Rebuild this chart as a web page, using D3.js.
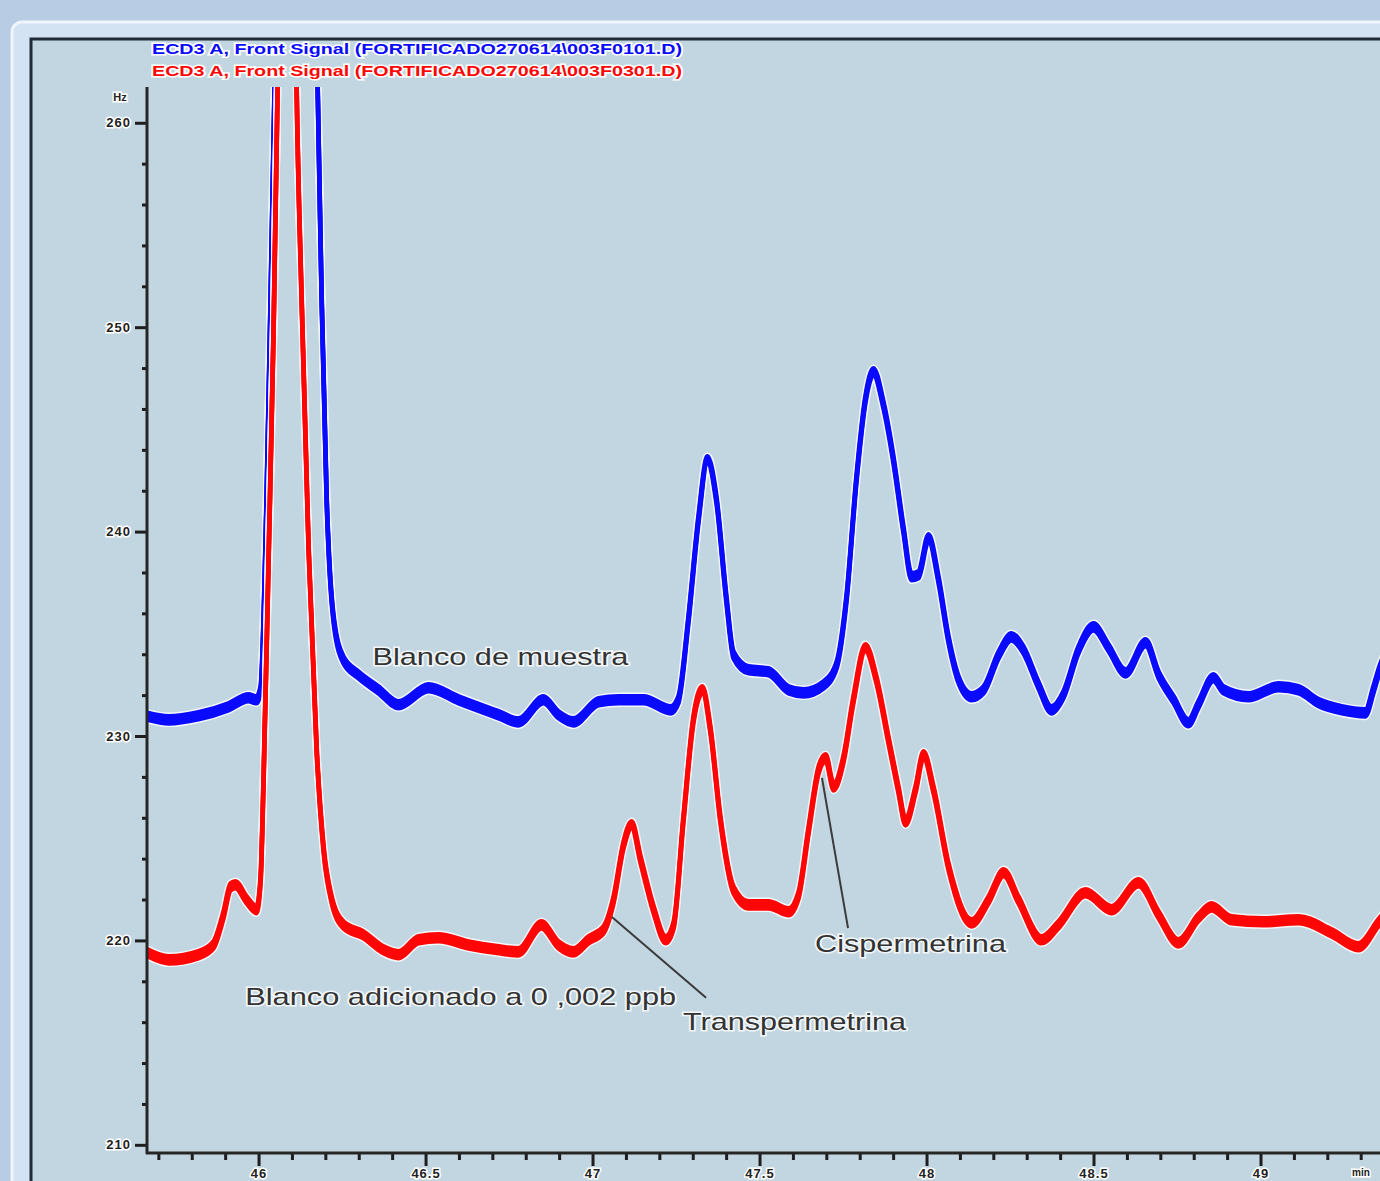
<!DOCTYPE html>
<html>
<head>
<meta charset="utf-8">
<script src="https://cdn.jsdelivr.net/npm/d3@7/dist/d3.min.js"></script>
<style>
  body { margin: 0; background: #b8cce3; overflow: hidden; }
  svg { display: block; }
  text { font-family: "Liberation Sans", Arial, sans-serif; }
</style>
</head>
<body>
<svg id="chart" width="1380" height="1181"></svg>
<script>
// chromatogram traces: [minutes, Hz]
var blueTrace = [
  [45.662, 230.99], [45.731, 230.79], [45.820, 230.99], [45.910, 231.43], [45.970, 231.87],
  [45.994, 231.77], [46.006, 232.26], [46.024, 241.56], [46.036, 251.34], [46.048, 261.71],
  [46.098, 300.0], [46.177, 261.71], [46.189, 251.34], [46.204, 241.56], [46.225, 235.68],
  [46.254, 233.73], [46.299, 232.99], [46.359, 232.26], [46.419, 231.53], [46.509, 232.36],
  [46.599, 231.77], [46.719, 231.04], [46.778, 230.69], [46.853, 231.77], [46.898, 231.04],
  [46.943, 230.69], [47.018, 231.67], [47.078, 231.77], [47.153, 231.77], [47.234, 231.28],
  [47.257, 231.77], [47.287, 235.68], [47.317, 240.58], [47.344, 243.51], [47.371, 241.56],
  [47.401, 236.66], [47.422, 233.97], [47.467, 233.24], [47.527, 233.14], [47.587, 232.26],
  [47.632, 232.11], [47.692, 232.50], [47.731, 233.48], [47.760, 236.66], [47.790, 242.53],
  [47.817, 246.45], [47.841, 247.82], [47.871, 246.20], [47.901, 243.51], [47.931, 240.09],
  [47.955, 237.79], [47.976, 237.89], [48.006, 239.70], [48.036, 237.64], [48.066, 234.71],
  [48.096, 232.75], [48.135, 231.92], [48.171, 232.26], [48.216, 233.97], [48.254, 234.85],
  [48.290, 234.22], [48.335, 232.50], [48.374, 231.28], [48.410, 232.02], [48.455, 234.22],
  [48.500, 235.34], [48.545, 234.32], [48.596, 233.09], [48.656, 234.56], [48.695, 232.99],
  [48.740, 231.77], [48.784, 230.65], [48.814, 231.53], [48.859, 232.85], [48.889, 232.26],
  [48.964, 231.92], [49.054, 232.41], [49.114, 232.26], [49.174, 231.63], [49.243, 231.28],
  [49.314, 231.13], [49.338, 232.26], [49.353, 233.09], [49.380, 234.20]
];

var redTrace = [
  [45.662, 219.44], [45.731, 219.05], [45.820, 219.30], [45.865, 219.78], [45.895, 221.25],
  [45.916, 222.62], [45.931, 222.72], [45.964, 221.99], [45.994, 221.50], [46.006, 222.96],
  [46.015, 227.86], [46.030, 238.62], [46.045, 249.87], [46.057, 261.71], [46.090, 300.0],
  [46.114, 261.71], [46.129, 251.34], [46.150, 239.11], [46.174, 229.32], [46.195, 224.43],
  [46.219, 221.99], [46.254, 220.76], [46.314, 220.27], [46.374, 219.54], [46.419, 219.30],
  [46.479, 220.03], [46.539, 220.13], [46.629, 219.78], [46.719, 219.54], [46.778, 219.44],
  [46.847, 220.76], [46.898, 219.78], [46.943, 219.44], [46.988, 220.03], [47.033, 220.52],
  [47.063, 221.99], [47.093, 224.68], [47.117, 225.66], [47.144, 223.94], [47.183, 221.50],
  [47.219, 220.03], [47.243, 220.76], [47.272, 225.90], [47.302, 230.79], [47.329, 232.26],
  [47.353, 230.30], [47.383, 225.90], [47.422, 222.48], [47.467, 221.74], [47.527, 221.74],
  [47.587, 221.40], [47.617, 222.23], [47.647, 225.41], [47.677, 228.35], [47.698, 228.93],
  [47.722, 227.51], [47.751, 228.84], [47.781, 231.77], [47.817, 234.32], [47.850, 232.75],
  [47.886, 229.81], [47.916, 227.37], [47.937, 225.80], [47.967, 227.37], [47.991, 229.08],
  [48.021, 227.37], [48.066, 223.60], [48.135, 220.86], [48.186, 221.99], [48.231, 223.31],
  [48.275, 221.99], [48.344, 220.03], [48.395, 220.76], [48.476, 222.33], [48.554, 221.50],
  [48.635, 222.82], [48.695, 221.25], [48.754, 219.88], [48.814, 221.11], [48.853, 221.64],
  [48.913, 221.01], [49.009, 220.91], [49.114, 221.01], [49.213, 220.37], [49.293, 219.69],
  [49.353, 220.86], [49.380, 221.40]
];

var yMajorTicks = [210, 220, 230, 240, 250, 260];
var yMinorTicks = [212, 214, 216, 218, 222, 224, 226, 228, 232, 234, 236, 238, 242, 244, 246, 248, 252, 254, 256, 258];
var xMajorTicks = [46, 46.5, 47, 47.5, 48, 48.5, 49];
var xMinorTicks = [45.7, 45.8, 45.9, 46.1, 46.2, 46.3, 46.4, 46.6, 46.7, 46.8, 46.9, 47.1, 47.2, 47.3, 47.4,
  47.6, 47.7, 47.8, 47.9, 48.1, 48.2, 48.3, 48.4, 48.6, 48.7, 48.8, 48.9, 49.1, 49.2, 49.3, 49.4];

var seriesNames = [
  "ECD3 A, Front Signal (FORTIFICADO270614\\003F0101.D)",
  "ECD3 A, Front Signal (FORTIFICADO270614\\003F0301.D)"
];

// label texts, anchor in data units
var labels = [
  { text: "Blanco de muestra", t: 46.341, v: 233.45, w: 256 },
  { text: "Blanco adicionado a 0 ,002 ppb", t: 45.960, v: 216.85, w: 431 },
  { text: "Transpermetrina", t: 47.271, v: 215.62, w: 223 },
  { text: "Cispermetrina", t: 47.666, v: 219.45, w: 191 }
];
var leaders = [
  { t1: 47.058, v1: 221.15, t2: 47.340, v2: 217.20 },
  { t1: 47.687, v1: 227.95, t2: 47.765, v2: 220.60 }
];

var svg = d3.select("#chart");

// window frame
svg.append("rect").attr("x", 0).attr("y", 0).attr("width", 1380).attr("height", 1181).attr("fill", "#b8cce3");
svg.append("rect").attr("x", 12).attr("y", 22).attr("width", 1400).attr("height", 1200)
  .attr("rx", 10).attr("fill", "#d3e3f4").attr("stroke", "#eef5fc").attr("stroke-width", 3);
svg.append("rect").attr("x", 31).attr("y", 39).attr("width", 1400).attr("height", 1200)
  .attr("fill", "#c2d6e1").attr("stroke", "#1f2b36").attr("stroke-width", 3);

var x = d3.scaleLinear().domain([45.666, 49.5]).range([147, 1427.5]);
var y = d3.scaleLinear().domain([209.6, 261.75]).range([1153, 87]);

svg.append("clipPath").attr("id", "plotClip")
  .append("rect").attr("x", 147).attr("y", 87).attr("width", 1240).attr("height", 1066);

var line = d3.line()
  .x(function (d) { return x(d[0]); })
  .y(function (d) { return y(d[1]); })
  .curve(d3.curveMonotoneX);

var traces = [
  { data: blueTrace, color: "#0a0aff" },
  { data: redTrace, color: "#ff0606" }
];
// the signal band is drawn as three stacked strokes
var offsets = [-3.5, 0, 3.5];

var plot = svg.append("g").attr("clip-path", "url(#plotClip)");

traces.forEach(function (tr) {
  var g = plot.append("g");
  offsets.forEach(function (o) {
    g.append("path").attr("d", line(tr.data)).attr("transform", "translate(0," + o + ")")
      .attr("fill", "none").attr("stroke", "#f4f8fb").attr("stroke-width", 7.5)
      .attr("stroke-linejoin", "round");
  });
  offsets.forEach(function (o) {
    g.append("path").attr("d", line(tr.data)).attr("transform", "translate(0," + o + ")")
      .attr("fill", "none").attr("stroke", tr.color).attr("stroke-width", 4.6)
      .attr("stroke-linejoin", "round");
  });
});

// axes
var fmt = d3.format("~g");
var yAxisMinor = svg.append("g").attr("transform", "translate(147,0)")
  .call(d3.axisLeft(y).tickValues(yMinorTicks).tickSize(5).tickFormat(""));
var yAxis = svg.append("g").attr("transform", "translate(147,0)")
  .call(d3.axisLeft(y).tickValues(yMajorTicks).tickSize(12).tickPadding(4).tickSizeOuter(0));
var xAxisMinor = svg.append("g").attr("transform", "translate(0,1153)")
  .call(d3.axisBottom(x).tickValues(xMinorTicks).tickSize(7).tickFormat(""));
var xAxis = svg.append("g").attr("transform", "translate(0,1153)")
  .call(d3.axisBottom(x).tickValues(xMajorTicks).tickFormat(fmt).tickSize(13).tickPadding(3).tickSizeOuter(0));

[yAxisMinor, yAxis, xAxisMinor, xAxis].forEach(function (a) {
  a.select(".domain").remove();
  a.selectAll(".tick line").attr("stroke", "#1e1e1e").attr("stroke-width", 3);
  a.selectAll(".tick text").attr("fill", "#222").attr("font-size", 13).attr("font-weight", "bold")
    .attr("letter-spacing", 1)
    .attr("stroke", "#ffffff").attr("stroke-width", 3).attr("paint-order", "stroke");
});

svg.append("line").attr("x1", 147).attr("x2", 147).attr("y1", 87).attr("y2", 1154)
  .attr("stroke", "#262626").attr("stroke-width", 3);
svg.append("line").attr("x1", 146).attr("x2", 1380).attr("y1", 1153).attr("y2", 1153)
  .attr("stroke", "#262626").attr("stroke-width", 3);

svg.append("text").attr("x", 120).attr("y", 101).attr("text-anchor", "middle")
  .attr("font-size", 11).attr("font-weight", "bold").attr("fill", "#222")
  .attr("stroke", "#fff").attr("stroke-width", 3).attr("paint-order", "stroke").text("Hz");
svg.append("text").attr("x", 1352).attr("y", 1176)
  .attr("font-size", 10).attr("font-weight", "bold").attr("fill", "#222")
  .attr("stroke", "#fff").attr("stroke-width", 3).attr("paint-order", "stroke").text("min");

// series names at top
svg.selectAll(".series-name").data(seriesNames).enter().append("text")
  .attr("class", "series-name")
  .attr("x", 152)
  .attr("y", function (d, i) { return 54 + i * 22; })
  .attr("font-size", 15).attr("font-weight", "bold")
  .attr("textLength", 530).attr("lengthAdjust", "spacingAndGlyphs")
  .attr("fill", function (d, i) { return traces[i].color; })
  .attr("stroke", "#ffffff").attr("stroke-width", 3).attr("paint-order", "stroke")
  .text(function (d) { return d; });

// leader lines and labels
svg.selectAll(".leader").data(leaders).enter().append("line")
  .attr("class", "leader")
  .attr("x1", function (d) { return x(d.t1); }).attr("y1", function (d) { return y(d.v1); })
  .attr("x2", function (d) { return x(d.t2); }).attr("y2", function (d) { return y(d.v2); })
  .attr("stroke", "#3a3a3a").attr("stroke-width", 2);

svg.selectAll(".label").data(labels).enter().append("text")
  .attr("class", "label")
  .attr("x", function (d) { return x(d.t); })
  .attr("y", function (d) { return y(d.v); })
  .attr("font-size", 24)
  .attr("textLength", function (d) { return d.w; }).attr("lengthAdjust", "spacingAndGlyphs")
  .attr("fill", "#333")
  .attr("stroke", "#f2f6f8").attr("stroke-width", 3).attr("paint-order", "stroke")
  .text(function (d) { return d.text; });
</script>
</body>
</html>
